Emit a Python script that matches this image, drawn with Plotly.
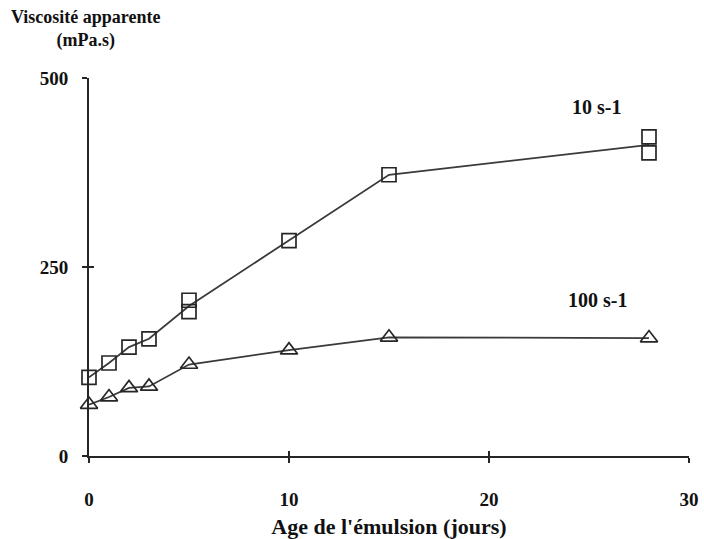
import plotly.graph_objects as go

# Data
age_10 = [0, 1, 2, 3, 5, 5, 10, 15, 28, 28]
visc_10 = [104, 123, 144, 155, 206, 191, 285, 372, 422, 401]
age_100 = [0, 1, 2, 3, 5, 10, 15, 28]
visc_100 = [68, 78, 90, 92, 121, 140, 157, 156]
x_ticks = [0, 10, 20, 30]
y_ticks = [0, 250, 500]
label_10 = "10 s-1"
label_100 = "100 s-1"

FONT = "Liberation Serif"
INK = "#262626"


def mean_by_x(xs, ys):
    groups = {}
    for x, y in zip(xs, ys):
        groups.setdefault(x, []).append(y)
    kx = sorted(groups)
    return kx, [sum(groups[k]) / len(groups[k]) for k in kx]


fig = go.Figure()

for xs, ys, sym in [(age_10, visc_10, "square-open"), (age_100, visc_100, "triangle-up-open")]:
    lx, ly = mean_by_x(xs, ys)
    fig.add_trace(go.Scatter(x=lx, y=ly, mode="lines",
                             line=dict(color="#3a3a3a", width=1.8),
                             showlegend=False, cliponaxis=False, hoverinfo="skip"))
    fig.add_trace(go.Scatter(x=xs, y=ys, mode="markers",
                             marker=dict(symbol=sym, size=14 if sym.startswith("square") else 15,
                                         color=INK, line=dict(width=1.7, color=INK)),
                             showlegend=False, cliponaxis=False))

axis_font = dict(family=FONT, size=19, color="#111", weight="bold")

fig.update_layout(
    width=704, height=539,
    margin=dict(l=89, r=15, t=78, b=83),
    paper_bgcolor="white", plot_bgcolor="white",
    xaxis=dict(range=[0, 30], tickvals=x_ticks, showgrid=False, zeroline=False,
               showline=True, linecolor=INK, linewidth=2, automargin=False,
               ticks="outside", ticklen=5, tickwidth=1.5, tickcolor=INK,
               tickfont=axis_font, ticklabelstandoff=20,
               title=dict(text="Age de l'émulsion (jours)",
                          font=dict(family=FONT, size=22, color="#111", weight="bold"),
                          standoff=16)),
    yaxis=dict(range=[0, 500], tickvals=y_ticks, showgrid=False, zeroline=False,
               showline=True, linecolor=INK, linewidth=2, automargin=False,
               ticks="outside", ticklen=5, tickwidth=1.5, tickcolor=INK,
               tickfont=axis_font, ticklabelstandoff=10),
    xaxis2=dict(range=[0, 30], tickvals=x_ticks, overlaying="x", anchor="y",
                side="bottom", showgrid=False, zeroline=False, showline=False,
                ticks="inside", ticklen=5, tickwidth=1.5, tickcolor=INK,
                showticklabels=False, automargin=False),
    yaxis2=dict(range=[0, 500], tickvals=y_ticks, overlaying="y", anchor="x",
                side="left", showgrid=False, zeroline=False, showline=False,
                ticks="inside", ticklen=5, tickwidth=1.5, tickcolor=INK,
                showticklabels=False, automargin=False),
)

fig.add_trace(go.Scatter(x=[None], y=[None], xaxis="x2", yaxis="y2", showlegend=False))

fig.add_annotation(text="Viscosité apparente<br>(mPa.s)", xref="paper", yref="paper",
                   x=(85 - 89) / 600, y=(456 - 29) / 378, xanchor="center", yanchor="middle",
                   showarrow=False, align="center",
                   font=dict(family=FONT, size=18, color="#111", weight="bold"))
fig.add_annotation(text=label_10, x=25.35, y=462, showarrow=False,
                   font=dict(family=FONT, size=20, color="#111", weight="bold"))
fig.add_annotation(text=label_100, x=25.4, y=207, showarrow=False,
                   font=dict(family=FONT, size=20, color="#111", weight="bold"))

fig.write_html("out.html")
